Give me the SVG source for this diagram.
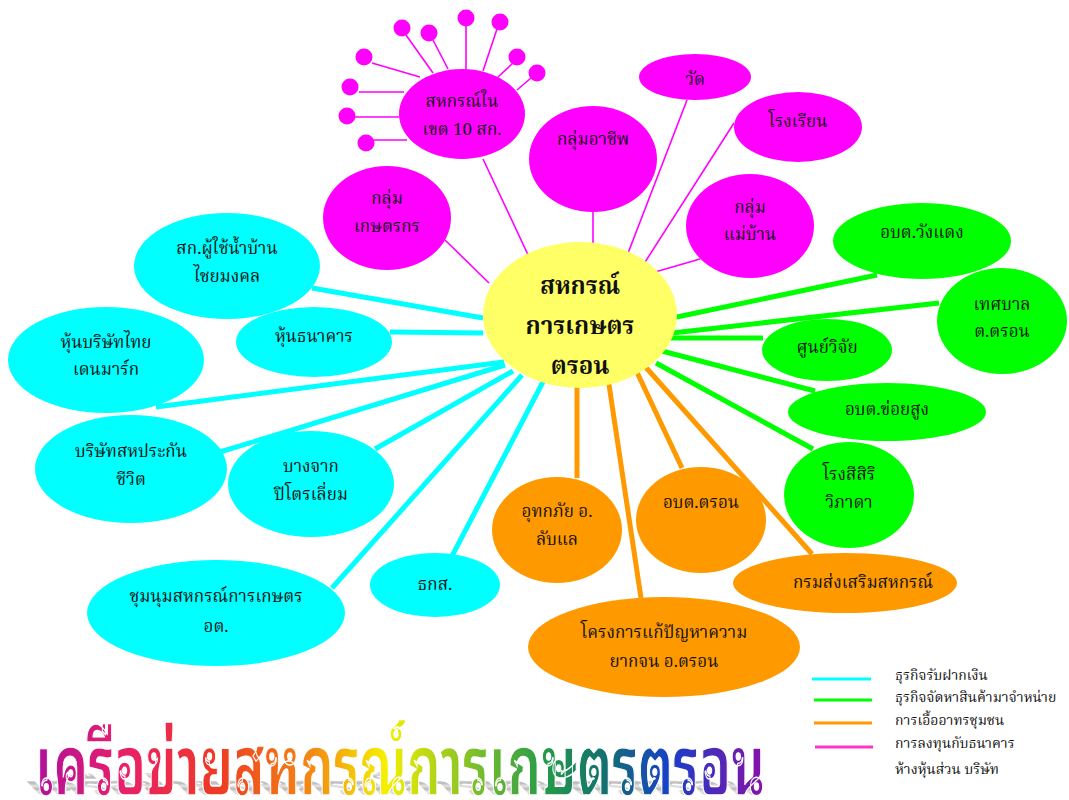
<svg xmlns="http://www.w3.org/2000/svg" width="1069" height="800" viewBox="0 0 1069 800">
<defs>
<style>
.t{font-family:"Noto Serif Thai","Noto Sans Thai","Garuda","Loma","Norasi","DejaVu Sans",serif;font-size:17px;fill:#111;text-anchor:middle;dominant-baseline:central}
.c{font-family:"Noto Serif Thai","Noto Sans Thai","Garuda","Loma","Norasi","DejaVu Sans",serif;font-size:24px;font-weight:bold;fill:#111;text-anchor:middle;dominant-baseline:central}
.lg{font-family:"Noto Serif Thai","Noto Sans Thai","Garuda","Loma","Norasi","DejaVu Sans",serif;font-size:14px;fill:#111;dominant-baseline:central}
.m{fill:#FF00FF}
.cy{fill:#00FFFF}
.g{fill:#00FF00}
.o{fill:#FF9900}
.lm{stroke:#FF00FF;stroke-width:1.6;fill:none}
.lc{stroke:#00FFFF;stroke-width:5;fill:none}
.lgn{stroke:#00FF00;stroke-width:5;fill:none}
.lo{stroke:#FF9900;stroke-width:5;fill:none}
.title{font-family:"Noto Sans Thai Looped","Noto Serif Thai","Noto Sans Thai","Loma","Garuda","DejaVu Sans",sans-serif;font-size:84px;font-weight:bold}
</style>
<linearGradient id="rainbow" x1="35" y1="0" x2="765" y2="0" gradientUnits="userSpaceOnUse">
<stop offset="0" stop-color="#B0109C"/>
<stop offset="0.12" stop-color="#E8206A"/>
<stop offset="0.25" stop-color="#EE3A24"/>
<stop offset="0.38" stop-color="#F38A14"/>
<stop offset="0.48" stop-color="#F6F000"/>
<stop offset="0.6" stop-color="#7FC02A"/>
<stop offset="0.7" stop-color="#249A4A"/>
<stop offset="0.78" stop-color="#127070"/>
<stop offset="0.87" stop-color="#1840C8"/>
<stop offset="1" stop-color="#8A10A8"/>
</linearGradient>
<pattern id="stripes" width="4" height="4" patternUnits="userSpaceOnUse">
<rect width="4" height="4" fill="#e6e6e6"/>
<rect width="4" height="2" fill="#b8b8b8"/>
</pattern>
</defs>
<rect width="1069" height="800" fill="#fff"/>

<g id="connectors">
<line class="lm" x1="406" y1="35" x2="433" y2="73"/>
<line class="lm" x1="433" y1="40" x2="448" y2="69"/>
<line class="lm" x1="466" y1="26" x2="466" y2="70"/>
<line class="lm" x1="497" y1="29" x2="483" y2="71"/>
<line class="lm" x1="513" y1="63" x2="498" y2="77"/>
<line class="lm" x1="531" y1="78" x2="517" y2="90"/>
<line class="lm" x1="372" y1="63" x2="420" y2="77"/>
<line class="lm" x1="359" y1="92" x2="404" y2="92"/>
<line class="lm" x1="355" y1="117" x2="399" y2="117"/>
<line class="lm" x1="374" y1="140" x2="407" y2="140"/>
<line class="lm" x1="483" y1="159" x2="530" y2="259"/>
<line class="lm" x1="593" y1="212" x2="593" y2="256"/>
<line class="lm" x1="687" y1="100" x2="625" y2="261"/>
<line class="lm" x1="734" y1="123" x2="640" y2="270"/>
<line class="lm" x1="700" y1="259" x2="655" y2="272"/>
<line class="lm" x1="445" y1="240" x2="489" y2="283"/>
<line class="lc" x1="312" y1="288" x2="483" y2="318"/>
<line class="lc" x1="390" y1="332" x2="483" y2="333"/>
<line class="lc" x1="156" y1="407" x2="504" y2="362"/>
<line class="lc" x1="220" y1="452" x2="505" y2="365"/>
<line class="lc" x1="375" y1="449" x2="513" y2="371"/>
<line class="lc" x1="332" y1="588" x2="522" y2="375"/>
<line class="lc" x1="452" y1="556" x2="545" y2="378"/>
<line class="lgn" x1="877" y1="275" x2="672" y2="318"/>
<line class="lgn" x1="939" y1="303" x2="672" y2="333"/>
<line class="lgn" x1="670" y1="338" x2="763" y2="338"/>
<line class="lgn" x1="662" y1="351" x2="815" y2="391"/>
<line class="lgn" x1="656" y1="363" x2="813" y2="449"/>
<line class="lo" x1="577" y1="378" x2="577" y2="478"/>
<line class="lo" x1="608" y1="378" x2="641" y2="598"/>
<line class="lo" x1="635" y1="368" x2="682" y2="468"/>
<line class="lo" x1="642" y1="363" x2="812" y2="554"/>
</g>

<g id="n-center"><ellipse cx="580" cy="315" rx="97" ry="73" fill="#FFFF66"/>
<text class="c" x="580" y="287">สหกรณ์</text><text class="c" x="580" y="327">การเกษตร</text><text class="c" x="580" y="367">ตรอน</text></g>

<g id="n-sk10"><ellipse class="m" cx="462" cy="114" rx="63" ry="45"/>
<text class="t" x="462" y="102">สหกรณ์ใน</text><text class="t" x="462" y="130">เขต 10 สก.</text></g>
<g id="n-dots">
<circle class="m" cx="402" cy="28" r="8.5"/>
<circle class="m" cx="429" cy="33" r="8.5"/>
<circle class="m" cx="466" cy="18" r="8.5"/>
<circle class="m" cx="500" cy="22" r="8.5"/>
<circle class="m" cx="517" cy="57" r="8.5"/>
<circle class="m" cx="537" cy="73" r="8.5"/>
<circle class="m" cx="364" cy="57" r="8.5"/>
<circle class="m" cx="350" cy="87" r="8.5"/>
<circle class="m" cx="347" cy="116" r="8.5"/>
<circle class="m" cx="366" cy="143" r="8.5"/>
</g>
<g id="n-archeep"><ellipse class="m" cx="593" cy="159" rx="64" ry="53"/><text class="t" x="593" y="140">กลุ่มอาชีพ</text></g>
<g id="n-wat"><ellipse class="m" cx="695" cy="77" rx="56" ry="23"/><text class="t" x="695" y="80">วัด</text></g>
<g id="n-school"><ellipse class="m" cx="798" cy="127" rx="64" ry="35"/><text class="t" x="798" y="122">โรงเรียน</text></g>
<g id="n-maeban"><ellipse class="m" cx="750" cy="226" rx="64" ry="52"/><text class="t" x="750" y="208">กลุ่ม</text><text class="t" x="750" y="235">แม่บ้าน</text></g>
<g id="n-kaset"><ellipse class="m" cx="387" cy="218" rx="64" ry="52"/><text class="t" x="387" y="199">กลุ่ม</text><text class="t" x="387" y="227">เกษตรกร</text></g>

<g id="n-water"><ellipse class="cy" cx="227" cy="266" rx="93" ry="53"/><text class="t" x="227" y="249">สก.ผู้ใช้น้ำบ้าน</text><text class="t" x="227" y="277">ไชยมงคล</text></g>
<g id="n-bankshare"><ellipse class="cy" cx="314" cy="342" rx="78" ry="35"/><text class="t" x="314" y="337">หุ้นธนาคาร</text></g>
<g id="n-thaidenmark"><ellipse class="cy" cx="106" cy="360" rx="98" ry="53"/><text class="t" x="106" y="343">หุ้นบริษัทไทย</text><text class="t" x="106" y="370">เดนมาร์ก</text></g>
<g id="n-insurance"><ellipse class="cy" cx="131" cy="469" rx="96" ry="54"/><text class="t" x="131" y="452">บริษัทสหประกัน</text><text class="t" x="131" y="480">ชีวิต</text></g>
<g id="n-bangchak"><ellipse class="cy" cx="311" cy="484" rx="83" ry="53"/><text class="t" x="311" y="467">บางจาก</text><text class="t" x="311" y="495">ปิโตรเลี่ยม</text></g>
<g id="n-chumnum"><ellipse class="cy" cx="216" cy="613" rx="129" ry="53"/><text class="t" x="216" y="597">ชุมนุมสหกรณ์การเกษตร</text><text class="t" x="216" y="627">อต.</text></g>
<g id="n-baac"><ellipse class="cy" cx="435" cy="585" rx="65" ry="32"/><text class="t" x="435" y="585">ธกส.</text></g>

<g id="n-wangdaeng"><ellipse class="g" cx="922" cy="241" rx="89" ry="38"/><text class="t" x="922" y="233">อบต.วังแดง</text></g>
<g id="n-tessaban"><ellipse class="g" cx="1002" cy="321" rx="65" ry="53"/><text class="t" x="1002" y="305">เทศบาล</text><text class="t" x="1002" y="332">ต.ตรอน</text></g>
<g id="n-research"><ellipse class="g" cx="827" cy="350" rx="65" ry="31"/><text class="t" x="827" y="348">ศูนย์วิจัย</text></g>
<g id="n-khoisung"><ellipse class="g" cx="887" cy="412" rx="99" ry="29"/><text class="t" x="887" y="410">อบต.ข่อยสูง</text></g>
<g id="n-rongsi"><ellipse class="g" cx="849" cy="495" rx="65" ry="53"/><text class="t" x="849" y="475">โรงสีสิริ</text><text class="t" x="849" y="503">วิภาดา</text></g>

<g id="n-uthok"><ellipse class="o" cx="557" cy="530" rx="65" ry="53"/><text class="t" x="557" y="512">อุทกภัย อ.</text><text class="t" x="557" y="540">ลับแล</text></g>
<g id="n-obttron"><ellipse class="o" cx="701" cy="520" rx="65" ry="53"/><text class="t" x="701" y="503">อบต.ตรอน</text></g>
<g id="n-poverty"><ellipse class="o" cx="664" cy="647" rx="136" ry="50"/><text class="t" x="664" y="633">โครงการแก้ปัญหาความ</text><text class="t" x="664" y="662">ยากจน อ.ตรอน</text></g>
<g id="n-krom"><ellipse class="o" cx="845" cy="583" rx="112" ry="30"/><text class="t" x="863" y="583">กรมส่งเสริมสหกรณ์</text></g>

<g id="legend">
<line x1="812" y1="679" x2="871" y2="679" stroke="#00FFFF" stroke-width="3"/>
<line x1="814" y1="700" x2="872" y2="700" stroke="#00FF00" stroke-width="3"/>
<line x1="814" y1="723" x2="872" y2="723" stroke="#FF9900" stroke-width="3"/>
<line x1="815" y1="747" x2="873" y2="747" stroke="#FF33CC" stroke-width="3"/>
<text class="lg" x="895" y="676">ธุรกิจรับฝากเงิน</text>
<text class="lg" x="895" y="698">ธุรกิจจัดหาสินค้ามาจำหน่าย</text>
<text class="lg" x="895" y="721">การเอื้ออาทรชุมชน</text>
<text class="lg" x="895" y="744">การลงทุนกับธนาคาร</text>
<text class="lg" x="895" y="770">ห้างหุ้นส่วน บริษัท</text>
</g>

<g id="title">
<text class="title" x="35" y="795" textLength="730" lengthAdjust="spacingAndGlyphs" fill="url(#stripes)" transform="matrix(1,0,0.28,0.3,-222.6,556.5)">เครือข่ายสหกรณ์การเกษตรตรอน</text>
<text class="title" x="35" y="795" textLength="730" lengthAdjust="spacingAndGlyphs" fill="url(#rainbow)" stroke="#fff" stroke-width="1.5">เครือข่ายสหกรณ์การเกษตรตรอน</text>
</g>
</svg>
